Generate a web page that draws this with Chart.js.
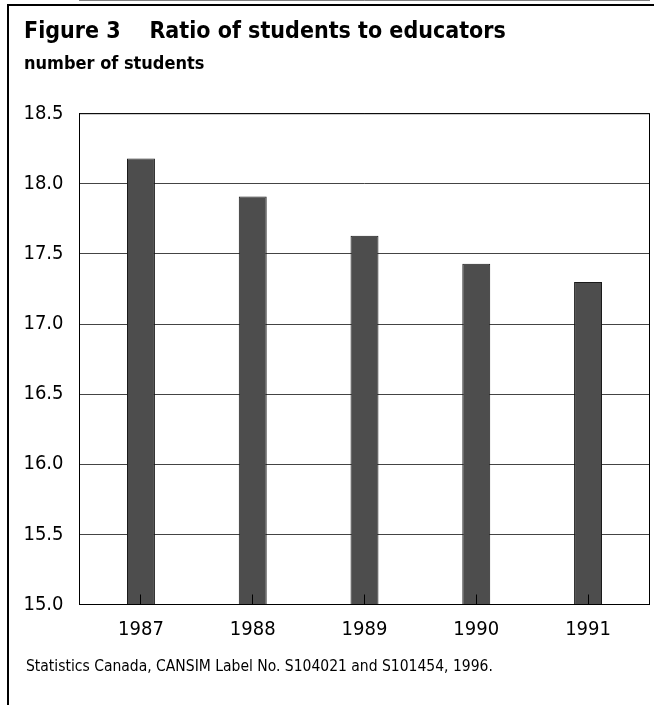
<!DOCTYPE html>
<html>
<head>
<meta charset="utf-8">
<script src="https://cdn.jsdelivr.net/npm/chart.js@4"></script>
<style>
  body { margin: 0; background: #fff; }
</style>
</head>
<body>
<canvas id="ratioChart" width="654" height="705"></canvas>
<script>
const years = [1987, 1988, 1989, 1990, 1991];
const ratios = [18.18, 17.91, 17.63, 17.43, 17.30];
const yMin = 15.0, yMax = 18.5, yStep = 0.5;
const titleText = "Figure 3    Ratio of students to educators";
const unitText = "number of students";
const sourceText = "Statistics Canada, CANSIM Label No. S104021 and S101454, 1996.";

const narrow = "'DejaVu Sans Condensed', 'Liberation Sans Narrow', sans-serif";
Chart.defaults.color = "#000";
Chart.defaults.font.family = narrow;

// page frame (top + left rule), box around the plot, source line
const extras = {
  id: "extras",
  afterDraw(chart) {
    const { ctx, chartArea: a } = chart;
    ctx.save();
    ctx.fillStyle = "#000";
    ctx.fillRect(7, 4, chart.width - 7, 2);
    ctx.fillRect(7, 4, 2, chart.height - 4);
    ctx.strokeStyle = "#000";
    ctx.lineWidth = 1;
    ctx.strokeRect(a.left, a.top, a.right - a.left, a.bottom - a.top);
    ctx.font = "15.5px " + narrow;
    ctx.textBaseline = "alphabetic";
    ctx.fillText(sourceText, 26, 671);
    ctx.restore();
  }
};

const ctx = document.getElementById("ratioChart").getContext("2d");
new Chart(ctx, {
  type: "bar",
  data: {
    datasets: [{
      data: years.map((yr, i) => ({ x: yr, y: ratios[i] })),
      backgroundColor: "#4d4d4d",
      borderColor: "#1a1a1a",
      borderWidth: 1,
      borderSkipped: false,
      categoryPercentage: 1,
      barPercentage: 0.25
    }]
  },
  options: {
    responsive: false,
    animation: false,
    layout: { padding: { left: 24, right: 4.5, top: 0, bottom: 40.5 } },
    plugins: {
      legend: { display: false },
      tooltip: { enabled: false },
      title: {
        display: true,
        text: titleText,
        align: "start",
        font: { size: 23, weight: "bold" },
        padding: { top: 18, bottom: 0 }
      },
      subtitle: {
        display: true,
        text: unitText,
        align: "start",
        color: "#000",
        font: { size: 18, weight: "bold" },
        padding: { top: 8, bottom: 38.5 }
      }
    },
    scales: {
      x: {
        type: "linear",
        offset: false,
        min: years[0] - 0.55,
        max: years[years.length - 1] + 0.55,
        afterBuildTicks: (s) => { s.ticks = years.map(v => ({ value: v })); },
        grid: { offset: false, drawOnChartArea: false, drawTicks: true, tickLength: -10, color: "#000", z: 1 },
        border: { color: "#000" },
        ticks: { font: { size: 20 }, padding: 23, callback: (v) => String(v) }
      },
      y: {
        min: yMin,
        max: yMax,
        afterFit: (s) => { s.width = 55.5; },
        grid: { color: "#444", drawTicks: false },
        border: { color: "#000" },
        ticks: { stepSize: yStep, font: { size: 20 }, padding: 16, callback: (v) => v.toFixed(1) }
      }
    }
  },
  plugins: [extras]
});
</script>
</body>
</html>
